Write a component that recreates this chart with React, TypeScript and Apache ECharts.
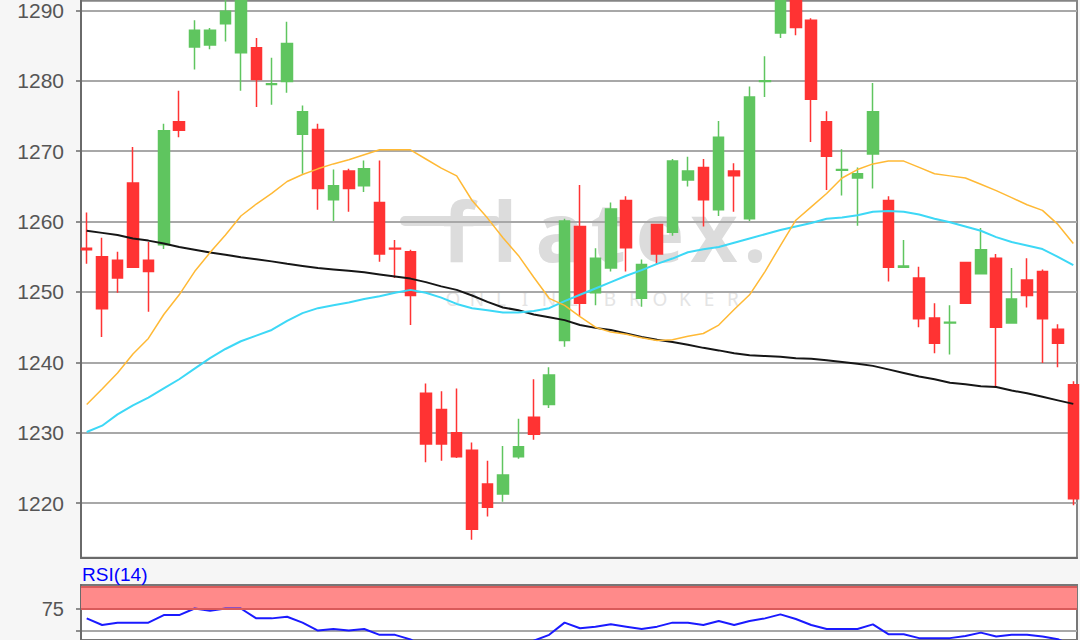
import React, { useEffect, useRef } from "react";
import * as echarts from "echarts";

// ---- Data (65 daily candles) ----
const openP = [
  1256.2, 1255.0, 1254.5, 1265.5, 1254.5, 1256.7, 1274.2, 1284.8, 1285.1, 1288.1,
  1284.0, 1284.7, 1279.5, 1279.9, 1272.4, 1273.1, 1263.1, 1267.2, 1265.1, 1262.7,
  1256.2, 1255.7, 1235.6, 1233.3, 1230.0, 1227.5, 1222.7, 1221.3, 1226.6, 1232.2,
  1234.0, 1243.1, 1259.3, 1249.9, 1253.4, 1263.0, 1249.1, 1259.6, 1258.5, 1265.9,
  1267.7, 1261.7, 1267.2, 1260.4, 1279.9, 1286.8, 1292.5, 1288.6, 1274.2, 1267.3,
  1266.2, 1269.6, 1263.0, 1253.5, 1252.0, 1246.3, 1245.6, 1254.2, 1252.6, 1254.8,
  1245.6, 1251.7, 1252.9, 1244.7, 1236.8,
];
const closeP = [
  1256.0, 1247.6, 1252.0, 1253.5, 1252.9, 1272.9, 1273.0, 1287.2, 1287.2, 1289.9,
  1293.0, 1280.2, 1279.6, 1285.3, 1275.6, 1264.7, 1265.1, 1264.7, 1267.5, 1255.4,
  1256.1, 1249.5, 1228.4, 1228.4, 1226.6, 1216.3, 1219.4, 1224.0, 1228.0, 1229.8,
  1238.2, 1260.1, 1248.4, 1254.8, 1261.8, 1256.3, 1253.9, 1255.4, 1268.6, 1267.2,
  1263.1, 1272.0, 1266.5, 1277.7, 1280.0, 1292.0, 1287.6, 1277.4, 1269.3, 1267.4,
  1266.8, 1275.6, 1253.5, 1253.7, 1246.2, 1242.7, 1245.7, 1248.4, 1256.0, 1245.0,
  1249.0, 1249.5, 1246.2, 1242.7, 1220.6,
];
const lowP = [
  1254.0, 1243.6, 1249.9, 1253.4, 1247.2, 1256.1, 1272.0, 1281.6, 1284.5, 1285.6,
  1278.6, 1276.3, 1276.6, 1278.3, 1266.8, 1261.7, 1260.1, 1261.4, 1264.2, 1254.3,
  1252.0, 1245.3, 1225.8, 1226.0, 1226.4, 1214.8, 1218.1, 1220.2, 1226.3, 1229.0,
  1233.5, 1242.2, 1246.6, 1248.1, 1252.9, 1252.9, 1247.9, 1253.9, 1258.0, 1265.0,
  1259.3, 1260.8, 1261.4, 1260.1, 1277.7, 1286.1, 1286.5, 1271.3, 1264.5, 1263.7,
  1259.4, 1264.7, 1251.5, 1253.5, 1245.0, 1241.3, 1241.1, 1248.3, 1252.6, 1236.4,
  1245.6, 1247.8, 1239.9, 1239.3, 1219.7,
];
const highP = [
  1261.3, 1257.7, 1255.7, 1270.6, 1257.1, 1273.9, 1278.6, 1288.6, 1287.5, 1292.0,
  1295.0, 1286.1, 1283.3, 1288.4, 1276.5, 1273.9, 1267.4, 1267.5, 1268.7, 1268.7,
  1257.4, 1256.0, 1237.0, 1235.9, 1236.3, 1228.6, 1226.0, 1228.1, 1232.0, 1237.6,
  1239.3, 1260.4, 1265.2, 1256.2, 1262.7, 1263.6, 1254.6, 1259.7, 1268.9, 1269.2,
  1268.9, 1274.3, 1268.3, 1279.2, 1283.5, 1294.0, 1294.0, 1288.9, 1275.7, 1270.3,
  1267.7, 1279.7, 1263.6, 1257.4, 1253.6, 1248.4, 1248.1, 1254.3, 1259.1, 1255.4,
  1253.4, 1254.8, 1253.2, 1245.4, 1237.3,
];
// short moving average (orange)
const maShort = [
  1234.0, 1236.2, 1238.5, 1241.2, 1243.4, 1246.8, 1249.6, 1252.9, 1255.6, 1258.1,
  1260.8, 1262.5, 1264.0, 1265.7, 1266.7, 1267.5, 1268.2, 1268.8, 1269.5, 1270.2,
  1270.2, 1270.2, 1268.9, 1267.6, 1266.5, 1263.0, 1260.5, 1257.7, 1255.2, 1252.1,
  1249.1, 1248.1, 1246.5, 1245.0, 1244.3, 1244.0, 1243.5, 1243.1, 1243.2, 1243.7,
  1244.1, 1245.3, 1247.5, 1249.6, 1252.9, 1256.6, 1260.2, 1262.1, 1264.0, 1266.2,
  1267.4, 1268.2, 1268.6, 1268.6, 1267.7, 1266.8, 1266.5, 1266.2, 1265.3, 1264.4,
  1263.4, 1262.4, 1261.6, 1259.6, 1256.9,
];
// medium moving average (cyan)
const maMid = [
  1230.1, 1231.0, 1232.6, 1233.9, 1235.0, 1236.3, 1237.6, 1239.1, 1240.6, 1241.9,
  1243.0, 1243.8, 1244.6, 1245.9, 1247.0, 1247.7, 1248.1, 1248.5, 1249.0, 1249.4,
  1249.9, 1250.3, 1249.9, 1249.2, 1248.3, 1247.7, 1247.4, 1247.1, 1247.1, 1247.3,
  1247.7, 1248.7, 1249.6, 1250.5, 1251.4, 1252.3, 1253.1, 1254.0, 1254.75, 1255.65,
  1256.06, 1256.4, 1257.0, 1257.6, 1258.2, 1258.8, 1259.3, 1259.8, 1260.4, 1260.6,
  1260.9, 1261.4, 1261.5, 1261.4, 1261.0, 1260.4, 1259.9, 1259.3, 1258.7, 1257.8,
  1257.1, 1256.6, 1256.1, 1255.0, 1253.8,
];
// long moving average (black)
const maLong = [
  1258.7, 1258.4, 1258.1, 1257.6, 1257.3, 1256.9, 1256.4, 1256.0, 1255.6, 1255.3,
  1254.95, 1254.65, 1254.35, 1254.0, 1253.7, 1253.4, 1253.2, 1253.0, 1252.8, 1252.5,
  1252.2, 1251.9, 1251.4, 1250.8, 1250.3, 1249.5, 1248.6, 1247.8, 1247.4, 1246.8,
  1246.4, 1246.0, 1245.3, 1244.9, 1244.6, 1244.1, 1243.6, 1243.2, 1242.9, 1242.5,
  1242.06, 1241.7, 1241.3, 1241.0, 1240.9, 1240.8, 1240.6, 1240.5, 1240.3, 1240.05,
  1239.8, 1239.5, 1239.0, 1238.5, 1238.0, 1237.6, 1237.1, 1236.9, 1236.6, 1236.5,
  1236.0, 1235.6, 1235.1, 1234.6, 1234.1,
];
const rsi14 = [
  64.1, 56.7, 59.3, 59.3, 59.3, 67.8, 67.8, 75.2, 72.6, 75.2,
  75.2, 64.1, 64.1, 65.9, 59.3, 50.4, 52.2, 50.4, 52.2, 45.6,
  45.6, 40.5, 30.0, 28.0, 27.0, 22.0, 24.0, 28.0, 32.0, 39.0,
  45.6, 59.3, 53.0, 54.8, 57.4, 54.8, 52.2, 54.8, 59.3, 59.3,
  56.7, 61.2, 56.7, 61.2, 64.1, 68.6, 63.4, 56.7, 52.2, 52.2,
  52.2, 57.4, 46.3, 46.3, 41.9, 41.9, 41.9, 44.4, 48.1, 43.7,
  45.6, 45.6, 43.7, 40.7, 33.0,
];
const priceTicks = [1220, 1230, 1240, 1250, 1260, 1270, 1280, 1290];
const rsiTicks = [50, 75];
const rsiLabels = [75];
const rsiZone = [75, 100];
const rsiTitle = "RSI(14)";
const watermarkLetters = ["f", "l", "a", "t", "e", "x", "."];
const watermarkSub = ["O", "N", "L", "I", "N", "E", "B", "R", "O", "K", "E", "R"];

const FONT = "'Liberation Sans', Arial, sans-serif";

export default function App() {
  const ref = useRef<HTMLDivElement>(null);

  useEffect(() => {
    const el = ref.current;
    if (!el) return;
    const chart = echarts.init(el, null, { renderer: "svg" });

    const candles = openP.map((o, i) => [i, o, closeP[i], lowP[i], highP[i]]);
    const toLine = (arr: number[]) => arr.map((v, i) => [i, v]);

    const xMin = -0.37;
    const xMax = 64.24;

    const letterX = [458, 505, 560, 608, 660, 714, 755];
    const subX = [453, 477, 501, 525, 549, 573, 610, 635, 660, 685, 709, 733];

    const graphic: any[] = [
      { type: "rect", z: -10, silent: true, shape: { x: 81, y: -3, width: 996, height: 560.7 }, style: { fill: "#ffffff" } },
      { type: "rect", z: -10, silent: true, shape: { x: 81, y: 585, width: 996, height: 60 }, style: { fill: "#ffffff" } },
      { type: "rect", z: -5, silent: true, shape: { x: 400, y: 216, width: 100, height: 10, r: 5 }, style: { fill: "#dcdcdc" } },
    ];
    watermarkLetters.forEach((ch, i) => {
      graphic.push({
        type: "text", z: -5, silent: true,
        style: {
          text: ch, x: letterX[i], y: 230,
          fontSize: 82, fontWeight: "bold", fontFamily: "'Noto Sans', sans-serif",
          fill: "#dcdcdc", align: "center", verticalAlign: "middle",
          textAlign: "center", textVerticalAlign: "middle",
        },
      });
    });
    watermarkSub.forEach((ch, i) => {
      graphic.push({
        type: "text", z: -5, silent: true,
        style: {
          text: ch, x: subX[i], y: 299,
          fontSize: 19, fontFamily: "'Noto Sans', sans-serif",
          fill: "#e4e4e4", align: "center", verticalAlign: "middle",
          textAlign: "center", textVerticalAlign: "middle",
        },
      });
    });

    const plain = (v: number) => String(v);

    const option: any = {
      animation: false,
      backgroundColor: "#f6f6f6",
      textStyle: { fontFamily: FONT },
      title: {
        text: rsiTitle, left: 82, top: 565, padding: 0,
        textStyle: { color: "#0000ff", fontSize: 19, fontWeight: "normal", fontFamily: FONT },
      },
      graphic,
      grid: [
        { left: 81, top: -3, width: 996, height: 560.7, show: true, backgroundColor: "transparent", borderColor: "#858585", borderWidth: 2 },
        { left: 81, top: 585, width: 996, height: 55, show: true, backgroundColor: "transparent", borderColor: "#777777", borderWidth: 2 },
      ],
      xAxis: [
        {
          type: "value", gridIndex: 0, min: xMin, max: xMax, position: "bottom",
          axisLine: { show: true, onZero: false, lineStyle: { color: "#6a6a6a", width: 2 } },
          axisTick: { show: false }, axisLabel: { show: false }, splitLine: { show: false },
        },
        {
          type: "value", gridIndex: 1, min: xMin, max: xMax,
          axisLine: { show: false }, axisTick: { show: false }, axisLabel: { show: false }, splitLine: { show: false },
        },
      ],
      yAxis: [
        {
          type: "value", gridIndex: 0, min: 1212.24, max: 1291.37, position: "left",
          axisLine: { show: true, onZero: false, lineStyle: { color: "#6a6a6a", width: 2 } },
          axisTick: { show: true, length: 5, customValues: priceTicks, lineStyle: { color: "#6a6a6a", width: 1.5 } },
          axisLabel: { customValues: priceTicks, formatter: plain, margin: 17, color: "#555555", fontSize: 21, fontFamily: FONT },
          splitLine: { show: true, lineStyle: { color: "#a8a8a8", width: 2 } },
        },
        {
          type: "value", gridIndex: 1, min: 39.8, max: 101.6, position: "left",
          axisLine: { show: true, onZero: false, lineStyle: { color: "#6a6a6a", width: 2 } },
          axisTick: { show: true, length: 5, customValues: rsiTicks, lineStyle: { color: "#6a6a6a", width: 1.5 } },
          axisLabel: { customValues: rsiLabels, formatter: plain, margin: 17, color: "#555555", fontSize: 20, fontFamily: FONT },
          splitLine: { show: true, lineStyle: { color: "#a8a8a8", width: 2 } },
        },
      ],
      series: [
        {
          type: "candlestick", xAxisIndex: 0, yAxisIndex: 0, data: candles,
          barWidth: 11, z: 3,
          itemStyle: {
            color: "#5fc55f", color0: "#ff3333",
            borderColor: "#5fc55f", borderColor0: "#ff3333", borderWidth: 1.5,
          },
        },
        {
          type: "line", xAxisIndex: 0, yAxisIndex: 0, data: toLine(maLong), z: 4,
          showSymbol: false, symbol: "none", lineStyle: { color: "#161616", width: 2 },
        },
        {
          type: "line", xAxisIndex: 0, yAxisIndex: 0, data: toLine(maMid), z: 4,
          showSymbol: false, symbol: "none", lineStyle: { color: "#3dd8f6", width: 2 },
        },
        {
          type: "line", xAxisIndex: 0, yAxisIndex: 0, data: toLine(maShort), z: 4,
          showSymbol: false, symbol: "none", lineStyle: { color: "#ffb935", width: 1.5 },
        },
        {
          type: "line", xAxisIndex: 1, yAxisIndex: 1, data: toLine(rsi14), z: 4,
          showSymbol: false, symbol: "none", lineStyle: { color: "#1a1aff", width: 2 },
          markArea: {
            silent: true,
            itemStyle: { color: "#ff8a8a", opacity: 1 },
            data: [[{ yAxis: rsiZone[0] }, { yAxis: rsiZone[1] }]],
          },
          markLine: {
            silent: true, symbol: "none", label: { show: false },
            lineStyle: { color: "#d95b5b", width: 2, type: "solid" },
            data: [{ yAxis: rsiZone[0] }, { yAxis: rsiZone[1] }],
          },
        },
      ],
    };

    chart.setOption(option);
    return () => chart.dispose();
  }, []);

  return (
    <div
      ref={ref}
      style={{ position: "fixed", left: 0, top: 0, width: 1080, height: 640, background: "#f6f6f6" }}
    />
  );
}
